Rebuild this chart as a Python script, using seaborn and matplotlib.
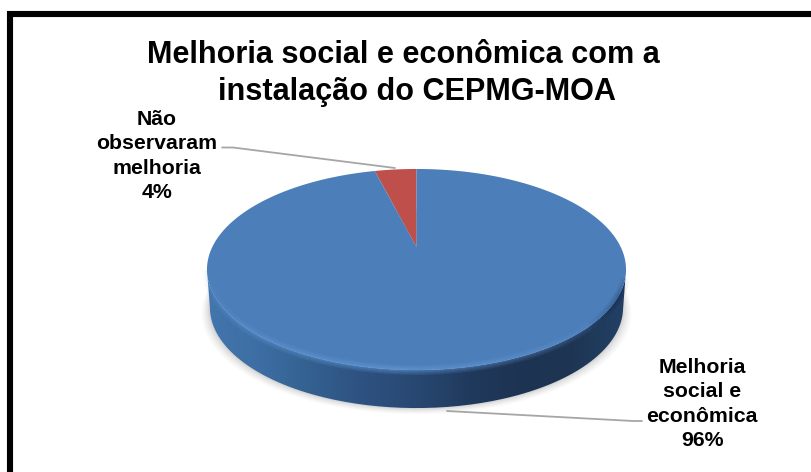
import numpy as np
import matplotlib
matplotlib.use("Agg")
import matplotlib.pyplot as plt
from matplotlib.transforms import Transform, Affine2D
from matplotlib.path import Path
from matplotlib.patches import PathPatch
from matplotlib.colors import LinearSegmentedColormap
import seaborn as sns

# ---- data -----------------------------------------------------------
categories = ["Não observaram melhoria", "Melhoria social e econômica"]
values = [4, 96]
slice_colors = ["#BE4F4B", "#4C7EB9"]
title_lines = ["Melhoria social e econômica com a", "instalação do CEPMG-MOA"]
label_texts = ["Não\nobservaram\nmelhoria\n4%", "Melhoria\nsocial e\neconômica\n96%"]

sns.set_theme(style="white")
plt.rcParams["font.family"] = ["Liberation Sans", "DejaVu Sans"]

W, H = 811, 472
fig = plt.figure(figsize=(W / 100, H / 100), dpi=100, facecolor="white")
ax = fig.add_axes([0, 0, 1, 1])


class Tilt(Transform):
    """Perspective view of the unit pie, result in image pixels."""
    input_dims = output_dims = 2
    has_inverse = False

    def __init__(self, dy=0.0, sx=1.0):
        super().__init__()
        self.dy, self.sx = dy, sx

    def transform_non_affine(self, xy):
        xy = np.asarray(xy, float)
        w = 1 + 0.2239 * xy[:, 1]
        return np.column_stack([
            416.5 + self.sx * 204.2 * xy[:, 0] / w,
            (247.0 - 40.2 * xy[:, 1]) / w + self.dy,
        ])

    def transform_path_non_affine(self, path):
        # flatten the curves first so that the outline stays smooth
        scaled = path.transformed(Affine2D().scale(2000))
        polys = scaled.to_polygons(closed_only=True)
        verts = np.vstack(polys) / 2000
        return Path(self.transform_non_affine(verts))


def outline(theta_deg, dy=0.0, sx=1.0):
    t = np.radians(theta_deg)
    return Tilt(dy, sx).transform_non_affine(np.column_stack([np.cos(t), np.sin(t)]))


ax.set_xlim(0, W)
ax.set_ylim(H, 0)
ax.axis("off")

# soft floor shadow
th = np.linspace(0, 360, 361)
for grow, a in zip([8, 6.5, 5, 3.5, 2, 1], [.035, .045, .055, .07, .08, .09]):
    s = outline(th, dy=38 + grow * 0.75, sx=(201.4 + grow) / 204.2)
    ax.fill(s[:, 0], s[:, 1], color="#808080", alpha=a, lw=0, zorder=1)

# side wall with horizontal shading
side_cmap = LinearSegmentedColormap.from_list(
    "side", ["#4376AE", "#3D6EA3", "#33608F", "#2D5180", "#284871", "#203A5D", "#1D3352", "#1E3654", "#234066"])
arc = np.linspace(192.9, 347.1, 181)
top = outline(arc)
bot = outline(arc, dy=38, sx=0.986)
poly = np.vstack([top, bot[::-1]])
wall = ax.imshow(np.linspace(0, 1, 256)[None, :], cmap=side_cmap, aspect="auto",
                 extent=[207, 627, 412, 260], zorder=2)
wall.set_clip_path(PathPatch(Path(poly, closed=False), transform=ax.transData))

# top face: the pie itself
wedges, _ = ax.pie(values, colors=slice_colors, startangle=90, counterclock=True,
                   radius=1, center=(0, 0), frame=False, normalize=True,
                   wedgeprops=dict(linewidth=0))
ax.set_aspect("auto")
ax.set_xlim(0, W)
ax.set_ylim(H, 0)
ax.axis("off")
tilt = Tilt()
for w in wedges:
    w.set_transform(tilt + ax.transData)
    w.set_zorder(3)
    w.set_clip_on(False)


# bevel on the rim of the top face, fading along the arc
def rim(knots, weights, color, widths=(7, 5, 3, 1.5), alpha=0.22):
    angles = np.linspace(knots[0], knots[-1], 121)
    pts = outline(angles)
    for i in range(len(angles) - 1):
        k = np.interp(0.5 * (angles[i] + angles[i + 1]), knots, weights)
        if k <= 0:
            continue
        for lw in widths:
            ax.plot(pts[i:i + 2, 0], pts[i:i + 2, 1], color=color, lw=lw, alpha=alpha * k,
                    zorder=4, solid_capstyle="butt")


rim([193, 225, 265, 300, 330], [0.1, 0.6, 1.0, 0.6, 0.0], "#6CA3E4", alpha=0.16)
rim([315, 332, 343], [0.0, 0.7, 0.0], "#1D3352", alpha=0.12)

# leader lines
ax.plot([222, 233, 395], [147.5, 147.5, 168], color="#A6A6A6", lw=1.3, zorder=5)
ax.plot([447, 633, 642], [411, 421, 421], color="#A6A6A6", lw=1.3, zorder=5)

# texts
fs_title = 22.1
ax.text(403, 55, title_lines[0], ha="center", va="center", fontsize=fs_title, fontweight="bold", color="black", zorder=6)
ax.text(416.5, 92, title_lines[1], ha="center", va="center", fontsize=fs_title, fontweight="bold", color="black", zorder=6)
ax.text(157, 156, label_texts[0], ha="center", va="center", fontsize=15.3, fontweight="bold",
        color="black", linespacing=1.34, zorder=6)
ax.text(702, 404, label_texts[1], ha="center", va="center", fontsize=15.3, fontweight="bold",
        color="black", linespacing=1.34, zorder=6)

# black frame: left and top edges only
ax.plot([10, 10], [H, 11.4], color="black", lw=4.4, zorder=7, solid_capstyle="butt")
ax.plot([7, W], [14.4, 14.4], color="black", lw=4.4, zorder=7, solid_capstyle="butt")

fig.savefig("out.png", dpi=100)
